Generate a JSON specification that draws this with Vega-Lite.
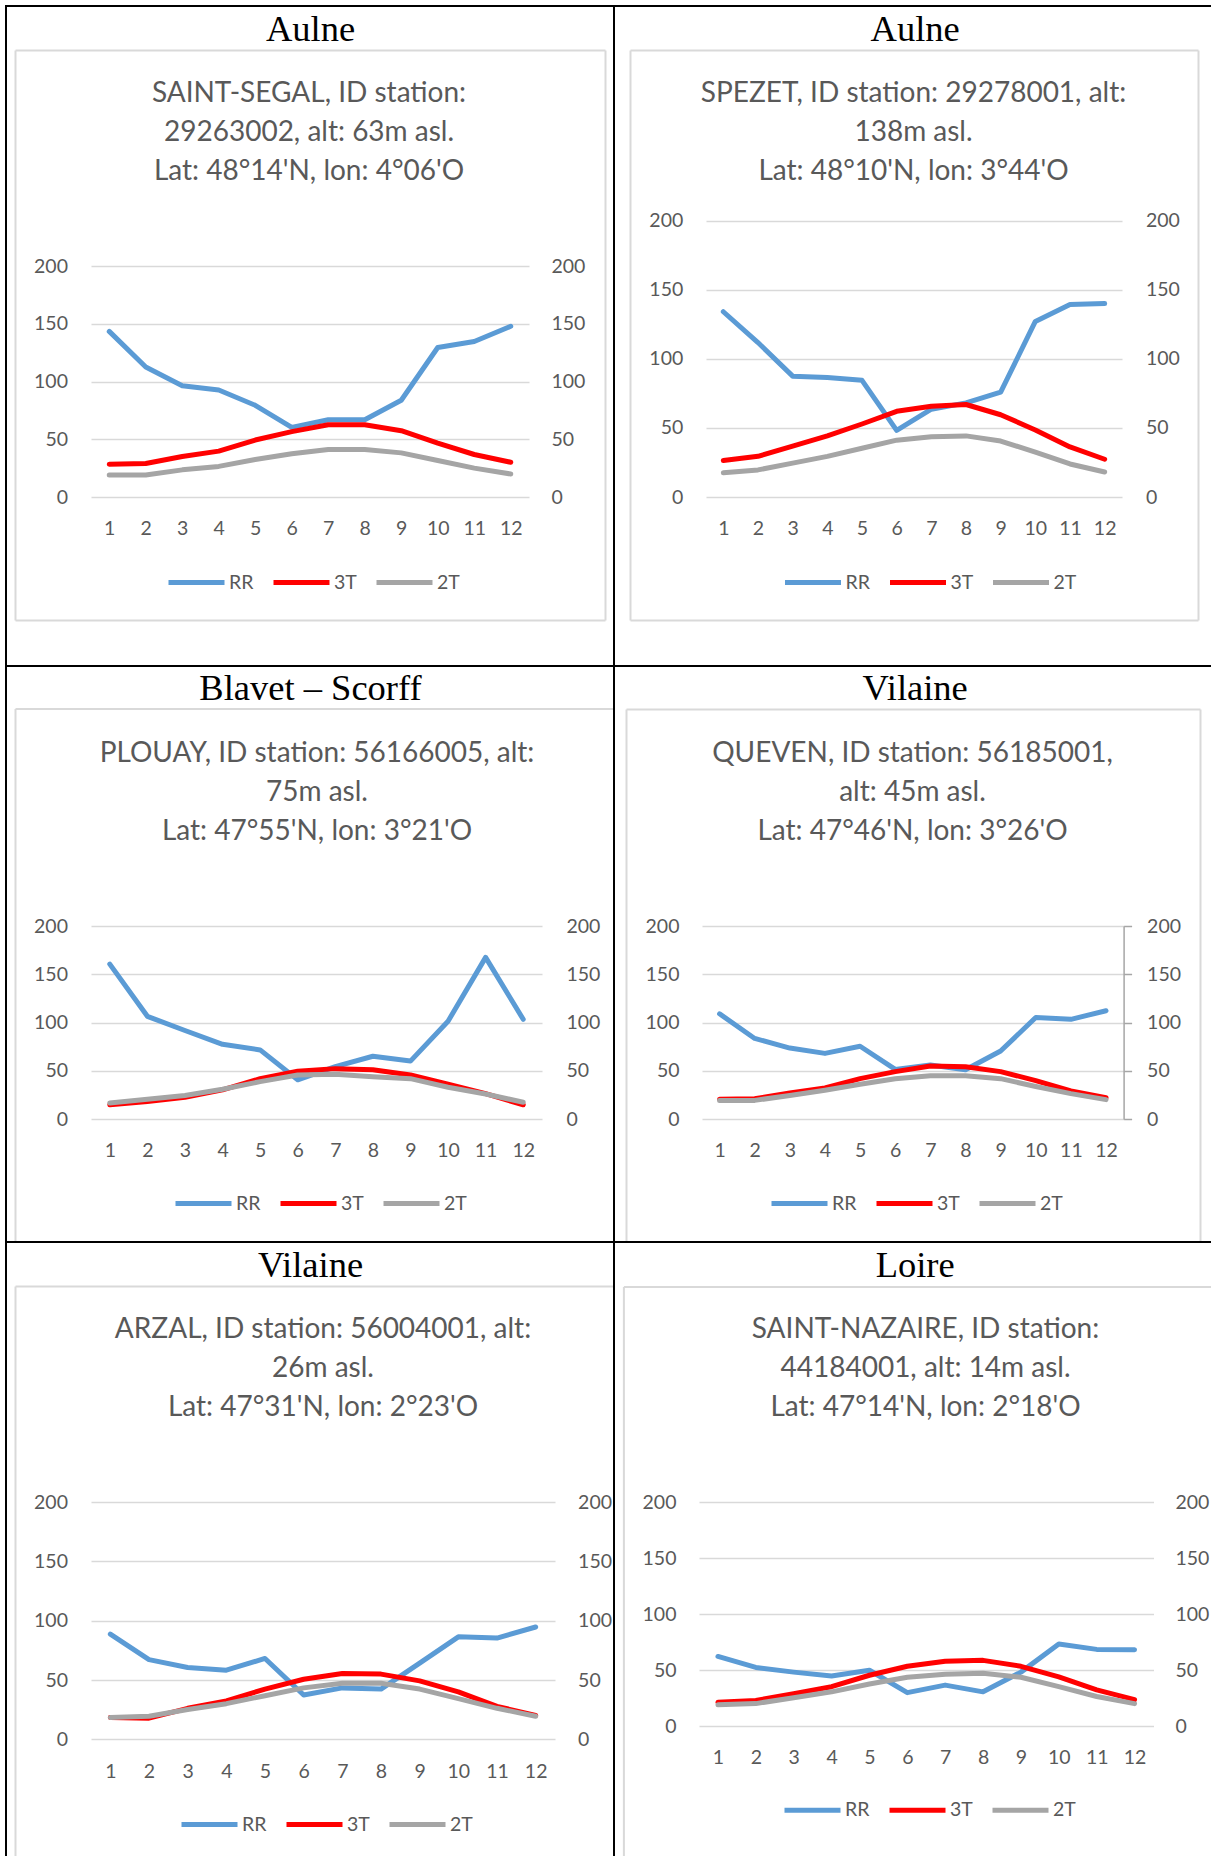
{
"$schema": "https://vega.github.io/schema/vega-lite/v6.json",
"usermeta": {"embedOptions": {"actions": false}},
"background": "white",
"padding": {"left": 5, "top": 5, "right": -2, "bottom": -2},
"config": {
  "view": {"stroke": "#000000", "strokeWidth": 2},
  "axis": {"labelFont": "Lato", "labelFontSize": 19.5, "labelColor": "#595959", "labelPadding": 0, "ticks": false, "domain": false, "grid": false, "titleFont": "Liberation Serif", "titleFontSize": 36.5, "titleFontWeight": "normal", "titleColor": "#000000", "titleAlign": "center", "titleBaseline": "alphabetic", "titleAngle": 0},
  "legend": {"orient": "none", "direction": "horizontal", "labelFont": "Lato", "labelFontSize": 19.5, "labelColor": "#595959", "symbolType": "stroke", "symbolSize": 3136, "symbolStrokeWidth": 5, "labelOffset": 2, "columnPadding": 17, "padding": 0},
  "title": {"anchor": "middle", "frame": "group", "offset": -180, "font": "Lato", "fontSize": 28, "fontWeight": "normal", "color": "#595959", "lineHeight": 39},
  "line": {"strokeWidth": 5, "strokeCap": "round", "strokeJoin": "round"}
},
"data": {"values": [
{"p":1,"m":1,"s":"RR","v":143.4},{"p":1,"m":2,"s":"RR","v":112.5},{"p":1,"m":3,"s":"RR","v":96.3},{"p":1,"m":4,"s":"RR","v":92.6},{"p":1,"m":5,"s":"RR","v":79.4},{"p":1,"m":6,"s":"RR","v":60.3},{"p":1,"m":7,"s":"RR","v":66.9},{"p":1,"m":8,"s":"RR","v":66.9},{"p":1,"m":9,"s":"RR","v":83.8},{"p":1,"m":10,"s":"RR","v":129.4},{"p":1,"m":11,"s":"RR","v":134.6},{"p":1,"m":12,"s":"RR","v":147.8},
{"p":1,"m":1,"s":"3T","v":28.3},{"p":1,"m":2,"s":"3T","v":29.0},{"p":1,"m":3,"s":"3T","v":35.0},{"p":1,"m":4,"s":"3T","v":39.7},{"p":1,"m":5,"s":"3T","v":49.3},{"p":1,"m":6,"s":"3T","v":56.6},{"p":1,"m":7,"s":"3T","v":62.5},{"p":1,"m":8,"s":"3T","v":62.5},{"p":1,"m":9,"s":"3T","v":57.4},{"p":1,"m":10,"s":"3T","v":46.7},{"p":1,"m":11,"s":"3T","v":36.8},{"p":1,"m":12,"s":"3T","v":30.1},
{"p":1,"m":1,"s":"2T","v":19.1},{"p":1,"m":2,"s":"2T","v":19.1},{"p":1,"m":3,"s":"2T","v":23.5},{"p":1,"m":4,"s":"2T","v":26.5},{"p":1,"m":5,"s":"2T","v":32.4},{"p":1,"m":6,"s":"2T","v":37.5},{"p":1,"m":7,"s":"2T","v":41.2},{"p":1,"m":8,"s":"2T","v":41.2},{"p":1,"m":9,"s":"2T","v":38.2},{"p":1,"m":10,"s":"2T","v":31.6},{"p":1,"m":11,"s":"2T","v":25.0},{"p":1,"m":12,"s":"2T","v":19.9},
{"p":2,"m":1,"s":"RR","v":134.0},{"p":2,"m":2,"s":"RR","v":111.7},{"p":2,"m":3,"s":"RR","v":87.4},{"p":2,"m":4,"s":"RR","v":86.5},{"p":2,"m":5,"s":"RR","v":84.4},{"p":2,"m":6,"s":"RR","v":48.2},{"p":2,"m":7,"s":"RR","v":63.5},{"p":2,"m":8,"s":"RR","v":68.1},{"p":2,"m":9,"s":"RR","v":75.8},{"p":2,"m":10,"s":"RR","v":127.0},{"p":2,"m":11,"s":"RR","v":139.3},{"p":2,"m":12,"s":"RR","v":139.9},
{"p":2,"m":1,"s":"3T","v":26.4},{"p":2,"m":2,"s":"3T","v":29.4},{"p":2,"m":3,"s":"3T","v":36.8},{"p":2,"m":4,"s":"3T","v":44.2},{"p":2,"m":5,"s":"3T","v":52.8},{"p":2,"m":6,"s":"3T","v":62.0},{"p":2,"m":7,"s":"3T","v":65.6},{"p":2,"m":8,"s":"3T","v":66.9},{"p":2,"m":9,"s":"3T","v":59.5},{"p":2,"m":10,"s":"3T","v":48.5},{"p":2,"m":11,"s":"3T","v":36.2},{"p":2,"m":12,"s":"3T","v":27.3},
{"p":2,"m":1,"s":"2T","v":17.5},{"p":2,"m":2,"s":"2T","v":19.6},{"p":2,"m":3,"s":"2T","v":24.5},{"p":2,"m":4,"s":"2T","v":29.4},{"p":2,"m":5,"s":"2T","v":35.3},{"p":2,"m":6,"s":"2T","v":41.1},{"p":2,"m":7,"s":"2T","v":43.6},{"p":2,"m":8,"s":"2T","v":44.2},{"p":2,"m":9,"s":"2T","v":40.5},{"p":2,"m":10,"s":"2T","v":32.5},{"p":2,"m":11,"s":"2T","v":23.9},{"p":2,"m":12,"s":"2T","v":18.1},
{"p":3,"m":1,"s":"RR","v":160.5},{"p":3,"m":2,"s":"RR","v":106.4},{"p":3,"m":3,"s":"RR","v":91.7},{"p":3,"m":4,"s":"RR","v":77.4},{"p":3,"m":5,"s":"RR","v":71.6},{"p":3,"m":6,"s":"RR","v":40.6},{"p":3,"m":7,"s":"RR","v":54.2},{"p":3,"m":8,"s":"RR","v":65.0},{"p":3,"m":9,"s":"RR","v":60.0},{"p":3,"m":10,"s":"RR","v":101.3},{"p":3,"m":11,"s":"RR","v":167.5},{"p":3,"m":12,"s":"RR","v":103.3},
{"p":3,"m":1,"s":"3T","v":14.7},{"p":3,"m":2,"s":"3T","v":18.2},{"p":3,"m":3,"s":"3T","v":22.4},{"p":3,"m":4,"s":"3T","v":30.2},{"p":3,"m":5,"s":"3T","v":41.8},{"p":3,"m":6,"s":"3T","v":49.5},{"p":3,"m":7,"s":"3T","v":52.2},{"p":3,"m":8,"s":"3T","v":51.1},{"p":3,"m":9,"s":"3T","v":45.6},{"p":3,"m":10,"s":"3T","v":36.0},{"p":3,"m":11,"s":"3T","v":26.3},{"p":3,"m":12,"s":"3T","v":14.7},
{"p":3,"m":1,"s":"2T","v":16.6},{"p":3,"m":2,"s":"2T","v":20.5},{"p":3,"m":3,"s":"2T","v":24.4},{"p":3,"m":4,"s":"2T","v":30.9},{"p":3,"m":5,"s":"2T","v":38.7},{"p":3,"m":6,"s":"2T","v":45.6},{"p":3,"m":7,"s":"2T","v":46.4},{"p":3,"m":8,"s":"2T","v":43.7},{"p":3,"m":9,"s":"2T","v":41.8},{"p":3,"m":10,"s":"2T","v":32.9},{"p":3,"m":11,"s":"2T","v":25.9},{"p":3,"m":12,"s":"2T","v":17.4},
{"p":4,"m":1,"s":"RR","v":109.0},{"p":4,"m":2,"s":"RR","v":83.5},{"p":4,"m":3,"s":"RR","v":73.5},{"p":4,"m":4,"s":"RR","v":68.0},{"p":4,"m":5,"s":"RR","v":75.4},{"p":4,"m":6,"s":"RR","v":51.4},{"p":4,"m":7,"s":"RR","v":56.0},{"p":4,"m":8,"s":"RR","v":51.0},{"p":4,"m":9,"s":"RR","v":70.4},{"p":4,"m":10,"s":"RR","v":105.2},{"p":4,"m":11,"s":"RR","v":103.3},{"p":4,"m":12,"s":"RR","v":112.2},
{"p":4,"m":1,"s":"3T","v":20.5},{"p":4,"m":2,"s":"3T","v":20.9},{"p":4,"m":3,"s":"3T","v":27.0},{"p":4,"m":4,"s":"3T","v":32.1},{"p":4,"m":5,"s":"3T","v":41.8},{"p":4,"m":6,"s":"3T","v":49.1},{"p":4,"m":7,"s":"3T","v":54.9},{"p":4,"m":8,"s":"3T","v":54.2},{"p":4,"m":9,"s":"3T","v":49.1},{"p":4,"m":10,"s":"3T","v":39.8},{"p":4,"m":11,"s":"3T","v":29.0},{"p":4,"m":12,"s":"3T","v":22.0},
{"p":4,"m":1,"s":"2T","v":19.3},{"p":4,"m":2,"s":"2T","v":19.3},{"p":4,"m":3,"s":"2T","v":24.4},{"p":4,"m":4,"s":"2T","v":29.8},{"p":4,"m":5,"s":"2T","v":36.0},{"p":4,"m":6,"s":"2T","v":41.8},{"p":4,"m":7,"s":"2T","v":44.9},{"p":4,"m":8,"s":"2T","v":44.9},{"p":4,"m":9,"s":"2T","v":41.8},{"p":4,"m":10,"s":"2T","v":33.7},{"p":4,"m":11,"s":"2T","v":26.3},{"p":4,"m":12,"s":"2T","v":20.1},
{"p":5,"m":1,"s":"RR","v":88.7},{"p":5,"m":2,"s":"RR","v":67.2},{"p":5,"m":3,"s":"RR","v":60.6},{"p":5,"m":4,"s":"RR","v":58.3},{"p":5,"m":5,"s":"RR","v":68.2},{"p":5,"m":6,"s":"RR","v":37.4},{"p":5,"m":7,"s":"RR","v":43.4},{"p":5,"m":8,"s":"RR","v":42.4},{"p":5,"m":9,"s":"RR","v":64.2},{"p":5,"m":10,"s":"RR","v":86.4},{"p":5,"m":11,"s":"RR","v":85.4},{"p":5,"m":12,"s":"RR","v":94.7},
{"p":5,"m":1,"s":"3T","v":18.5},{"p":5,"m":2,"s":"3T","v":17.9},{"p":5,"m":3,"s":"3T","v":26.2},{"p":5,"m":4,"s":"3T","v":32.4},{"p":5,"m":5,"s":"3T","v":42.4},{"p":5,"m":6,"s":"3T","v":50.7},{"p":5,"m":7,"s":"3T","v":55.6},{"p":5,"m":8,"s":"3T","v":55.0},{"p":5,"m":9,"s":"3T","v":49.3},{"p":5,"m":10,"s":"3T","v":40.1},{"p":5,"m":11,"s":"3T","v":27.8},{"p":5,"m":12,"s":"3T","v":20.2},
{"p":5,"m":1,"s":"2T","v":18.5},{"p":5,"m":2,"s":"2T","v":19.5},{"p":5,"m":3,"s":"2T","v":25.2},{"p":5,"m":4,"s":"2T","v":30.1},{"p":5,"m":5,"s":"2T","v":36.8},{"p":5,"m":6,"s":"2T","v":43.4},{"p":5,"m":7,"s":"2T","v":47.3},{"p":5,"m":8,"s":"2T","v":47.3},{"p":5,"m":9,"s":"2T","v":42.4},{"p":5,"m":10,"s":"2T","v":34.4},{"p":5,"m":11,"s":"2T","v":26.2},{"p":5,"m":12,"s":"2T","v":19.5},
{"p":6,"m":1,"s":"RR","v":62.1},{"p":6,"m":2,"s":"RR","v":52.3},{"p":6,"m":3,"s":"RR","v":48.1},{"p":6,"m":4,"s":"RR","v":44.6},{"p":6,"m":5,"s":"RR","v":49.8},{"p":6,"m":6,"s":"RR","v":29.8},{"p":6,"m":7,"s":"RR","v":36.5},{"p":6,"m":8,"s":"RR","v":30.5},{"p":6,"m":9,"s":"RR","v":48.1},{"p":6,"m":10,"s":"RR","v":73.3},{"p":6,"m":11,"s":"RR","v":68.4},{"p":6,"m":12,"s":"RR","v":68.1},
{"p":6,"m":1,"s":"3T","v":21.1},{"p":6,"m":2,"s":"3T","v":22.8},{"p":6,"m":3,"s":"3T","v":28.8},{"p":6,"m":4,"s":"3T","v":35.1},{"p":6,"m":5,"s":"3T","v":45.3},{"p":6,"m":6,"s":"3T","v":53.3},{"p":6,"m":7,"s":"3T","v":57.9},{"p":6,"m":8,"s":"3T","v":58.6},{"p":6,"m":9,"s":"3T","v":53.3},{"p":6,"m":10,"s":"3T","v":43.9},{"p":6,"m":11,"s":"3T","v":32.3},{"p":6,"m":12,"s":"3T","v":23.5},
{"p":6,"m":1,"s":"2T","v":18.9},{"p":6,"m":2,"s":"2T","v":20.0},{"p":6,"m":3,"s":"2T","v":25.3},{"p":6,"m":4,"s":"2T","v":30.5},{"p":6,"m":5,"s":"2T","v":37.5},{"p":6,"m":6,"s":"2T","v":43.5},{"p":6,"m":7,"s":"2T","v":46.3},{"p":6,"m":8,"s":"2T","v":47.0},{"p":6,"m":9,"s":"2T","v":43.5},{"p":6,"m":10,"s":"2T","v":35.1},{"p":6,"m":11,"s":"2T","v":26.3},{"p":6,"m":12,"s":"2T","v":20.0}
]},
"columns": 2,
"spacing": 0,
"bounds": "flush",
"resolve": {"scale": {"color": "independent"}, "legend": {"color": "independent"}},
"concat": [
{
 "width": 608, "height": 660,
 "title": {"text": ["SAINT-SEGAL, ID station:", "29263002, alt: 63m asl.", "Lat: 48°14'N, lon: 4°06'O"], "dx": -1},
 "transform": [{"filter": "datum.p == 1"}],
 "resolve": {"scale": {"x": "independent", "y": "independent"}, "axis": {"x": "independent", "y": "independent"}},
 "layer": [
  {"mark": "line", "encoding": {
    "x": {"field": "m", "type": "ordinal", "scale": {"type": "point", "range": [85, 523], "padding": 0.5}, "axis": {"orient": "bottom", "offset": -146.4, "labelAngle": 0, "title": null}},
    "y": {"field": "v", "type": "quantitative", "scale": {"domain": [0, 200], "range": [491, 260], "nice": false}, "axis": {"orient": "left", "offset": -61.5, "values": [0, 50, 100, 150, 200], "grid": true, "gridColor": "#d9d9d9", "gridWidth": 1.5, "title": null}},
    "color": {"field": "s", "type": "nominal", "sort": ["RR", "3T", "2T"], "scale": {"domain": ["RR", "3T", "2T"], "range": ["#5b9bd5", "#ff0000", "#a5a5a5"]}, "legend": {"title": null, "legendX": 160, "legendY": 546}}}},
  {"mark": {"type": "line", "opacity": 0}, "encoding": {
    "x": {"field": "m", "type": "ordinal", "scale": {"type": "point", "range": [85, 523], "padding": 0.5}, "axis": null},
    "y": {"field": "v", "type": "quantitative", "scale": {"domain": [0, 200], "range": [491, 260], "nice": false}, "axis": {"orient": "right", "offset": -63, "values": [0, 50, 100, 150, 200], "title": null}}}},
  {"mark": {"type": "line", "opacity": 0}, "encoding": {
    "x": {"field": "m", "type": "quantitative", "scale": {"domain": [1, 12], "range": [9, 599], "nice": false, "zero": false}, "axis": {"orient": "top", "offset": -44, "domain": true, "domainColor": "#d9d9d9", "domainWidth": 2, "labels": false, "title": "Aulne", "titleX": 304, "titleY": -9.6}},
    "y": {"field": "v", "type": "quantitative", "scale": {"domain": [0, 200], "range": [614, 44], "nice": false}, "axis": {"orient": "left", "offset": -9, "domain": true, "domainColor": "#d9d9d9", "domainWidth": 2, "labels": false, "title": null}}}},
  {"mark": {"type": "line", "opacity": 0}, "encoding": {
    "x": {"field": "m", "type": "quantitative", "scale": {"domain": [1, 12], "range": [9, 599], "nice": false, "zero": false}, "axis": {"orient": "bottom", "offset": -46, "domain": true, "domainColor": "#d9d9d9", "domainWidth": 2, "labels": false, "title": null}},
    "y": {"field": "v", "type": "quantitative", "scale": {"domain": [0, 200], "range": [614, 44], "nice": false}, "axis": {"orient": "right", "offset": -9, "domain": true, "domainColor": "#d9d9d9", "domainWidth": 2, "labels": false, "title": null}}}}
 ]
},
{
 "width": 598, "height": 660,
 "title": {"text": ["SPEZET, ID station: 29278001, alt:", "138m asl.", "Lat: 48°10'N, lon: 3°44'O"], "dx": 0.5},
 "transform": [{"filter": "datum.p == 2"}],
 "resolve": {"scale": {"x": "independent", "y": "independent"}, "axis": {"x": "independent", "y": "independent"}},
 "layer": [
  {"mark": "line", "encoding": {
    "x": {"field": "m", "type": "ordinal", "scale": {"type": "point", "range": [92, 508], "padding": 0.5}, "axis": {"orient": "bottom", "offset": -146.4, "labelAngle": 0, "title": null}},
    "y": {"field": "v", "type": "quantitative", "scale": {"domain": [0, 200], "range": [491, 214.5], "nice": false}, "axis": {"orient": "left", "offset": -68.8, "values": [0, 50, 100, 150, 200], "grid": true, "gridColor": "#d9d9d9", "gridWidth": 1.5, "title": null}},
    "color": {"field": "s", "type": "nominal", "sort": ["RR", "3T", "2T"], "scale": {"domain": ["RR", "3T", "2T"], "range": ["#5b9bd5", "#ff0000", "#a5a5a5"]}, "legend": {"title": null, "legendX": 168.5, "legendY": 546}}}},
  {"mark": {"type": "line", "opacity": 0}, "encoding": {
    "x": {"field": "m", "type": "ordinal", "scale": {"type": "point", "range": [92, 508], "padding": 0.5}, "axis": null},
    "y": {"field": "v", "type": "quantitative", "scale": {"domain": [0, 200], "range": [491, 214.5], "nice": false}, "axis": {"orient": "right", "offset": -66.6, "values": [0, 50, 100, 150, 200], "title": null}}}},
  {"mark": {"type": "line", "opacity": 0}, "encoding": {
    "x": {"field": "m", "type": "quantitative", "scale": {"domain": [1, 12], "range": [16, 584], "nice": false, "zero": false}, "axis": {"orient": "top", "offset": -44, "domain": true, "domainColor": "#d9d9d9", "domainWidth": 2, "labels": false, "title": "Aulne", "titleX": 300.7, "titleY": -9.6}},
    "y": {"field": "v", "type": "quantitative", "scale": {"domain": [0, 200], "range": [614, 44], "nice": false}, "axis": {"orient": "left", "offset": -16, "domain": true, "domainColor": "#d9d9d9", "domainWidth": 2, "labels": false, "title": null}}}},
  {"mark": {"type": "line", "opacity": 0}, "encoding": {
    "x": {"field": "m", "type": "quantitative", "scale": {"domain": [1, 12], "range": [16, 584], "nice": false, "zero": false}, "axis": {"orient": "bottom", "offset": -46, "domain": true, "domainColor": "#d9d9d9", "domainWidth": 2, "labels": false, "title": null}},
    "y": {"field": "v", "type": "quantitative", "scale": {"domain": [0, 200], "range": [614, 44], "nice": false}, "axis": {"orient": "right", "offset": -14, "domain": true, "domainColor": "#d9d9d9", "domainWidth": 2, "labels": false, "title": null}}}}
 ]
},
{
 "width": 608, "height": 576,
 "title": {"text": ["PLOUAY, ID station: 56166005, alt:", "75m asl.", "Lat: 47°55'N, lon: 3°21'O"], "dx": 7},
 "transform": [{"filter": "datum.p == 3"}],
 "resolve": {"scale": {"x": "independent", "y": "independent"}, "axis": {"x": "independent", "y": "independent"}},
 "layer": [
  {"mark": "line", "encoding": {
    "x": {"field": "m", "type": "ordinal", "scale": {"type": "point", "range": [85, 536], "padding": 0.5}, "axis": {"orient": "bottom", "offset": -100.4, "labelAngle": 0, "title": null}},
    "y": {"field": "v", "type": "quantitative", "scale": {"domain": [0, 200], "range": [453, 260], "nice": false}, "axis": {"orient": "left", "offset": -61.5, "values": [0, 50, 100, 150, 200], "grid": true, "gridColor": "#d9d9d9", "gridWidth": 1.5, "title": null}},
    "color": {"field": "s", "type": "nominal", "sort": ["RR", "3T", "2T"], "scale": {"domain": ["RR", "3T", "2T"], "range": ["#5b9bd5", "#ff0000", "#a5a5a5"]}, "legend": {"title": null, "legendX": 167, "legendY": 507}}}},
  {"mark": {"type": "line", "opacity": 0}, "encoding": {
    "x": {"field": "m", "type": "ordinal", "scale": {"type": "point", "range": [85, 536], "padding": 0.5}, "axis": null},
    "y": {"field": "v", "type": "quantitative", "scale": {"domain": [0, 200], "range": [453, 260], "nice": false}, "axis": {"orient": "right", "offset": -48, "values": [0, 50, 100, 150, 200], "title": null}}}},
  {"mark": {"type": "line", "opacity": 0}, "encoding": {
    "x": {"field": "m", "type": "quantitative", "scale": {"domain": [1, 12], "range": [9, 608], "nice": false, "zero": false}, "axis": {"orient": "top", "offset": -42.5, "domain": true, "domainColor": "#d9d9d9", "domainWidth": 2, "labels": false, "title": "Blavet – Scorff", "titleX": 304, "titleY": -8.7}},
    "y": {"field": "v", "type": "quantitative", "scale": {"domain": [0, 200], "range": [576, 42.5], "nice": false}, "axis": {"orient": "left", "offset": -9, "domain": true, "domainColor": "#d9d9d9", "domainWidth": 2, "labels": false, "title": null}}}}
 ]
},
{
 "width": 598, "height": 576,
 "title": {"text": ["QUEVEN, ID station: 56185001,", "alt: 45m asl.", "Lat: 47°46'N, lon: 3°26'O"], "dx": -0.5},
 "transform": [{"filter": "datum.p == 4"}],
 "resolve": {"scale": {"x": "independent", "y": "independent"}, "axis": {"x": "independent", "y": "independent"}},
 "layer": [
  {"mark": "line", "encoding": {
    "x": {"field": "m", "type": "ordinal", "scale": {"type": "point", "range": [88, 509.6], "padding": 0.5}, "axis": {"orient": "bottom", "offset": -100.4, "labelAngle": 0, "title": null}},
    "y": {"field": "v", "type": "quantitative", "scale": {"domain": [0, 200], "range": [453, 260], "nice": false}, "axis": {"orient": "left", "offset": -65, "values": [0, 50, 100, 150, 200], "grid": true, "gridColor": "#d9d9d9", "gridWidth": 1.5, "title": null}},
    "color": {"field": "s", "type": "nominal", "sort": ["RR", "3T", "2T"], "scale": {"domain": ["RR", "3T", "2T"], "range": ["#5b9bd5", "#ff0000", "#a5a5a5"]}, "legend": {"title": null, "legendX": 155, "legendY": 507}}}},
  {"mark": {"type": "line", "opacity": 0}, "encoding": {
    "x": {"field": "m", "type": "ordinal", "scale": {"type": "point", "range": [88, 509.6], "padding": 0.5}, "axis": null},
    "y": {"field": "v", "type": "quantitative", "scale": {"domain": [0, 200], "range": [453, 260], "nice": false}, "axis": {"orient": "right", "offset": -88.4, "values": [0, 50, 100, 150, 200], "domain": true, "domainColor": "#a6a6a6", "domainWidth": 1.5, "ticks": true, "tickSize": 8, "tickColor": "#a6a6a6", "tickWidth": 1.5, "labelPadding": 15, "title": null}}}},
  {"mark": {"type": "line", "opacity": 0}, "encoding": {
    "x": {"field": "m", "type": "quantitative", "scale": {"domain": [1, 12], "range": [12, 586], "nice": false, "zero": false}, "axis": {"orient": "top", "offset": -43, "domain": true, "domainColor": "#d9d9d9", "domainWidth": 2, "labels": false, "title": "Vilaine", "titleX": 300.7, "titleY": -9.2}},
    "y": {"field": "v", "type": "quantitative", "scale": {"domain": [0, 200], "range": [576, 43], "nice": false}, "axis": {"orient": "left", "offset": -12, "domain": true, "domainColor": "#d9d9d9", "domainWidth": 2, "labels": false, "title": null}}}},
  {"mark": {"type": "line", "opacity": 0}, "encoding": {
    "x": {"field": "m", "type": "quantitative", "scale": {"domain": [1, 12], "range": [12, 586], "nice": false, "zero": false}, "axis": null},
    "y": {"field": "v", "type": "quantitative", "scale": {"domain": [0, 200], "range": [576, 43], "nice": false}, "axis": {"orient": "right", "offset": -12, "domain": true, "domainColor": "#d9d9d9", "domainWidth": 2, "labels": false, "title": null}}}}
 ]
},
{
 "width": 608, "height": 615,
 "title": {"text": ["ARZAL, ID station: 56004001, alt:", "26m asl.", "Lat: 47°31'N, lon: 2°23'O"], "dx": 13},
 "transform": [{"filter": "datum.p == 5"}],
 "resolve": {"scale": {"x": "independent", "y": "independent"}, "axis": {"x": "independent", "y": "independent"}},
 "layer": [
  {"mark": "line", "encoding": {
    "x": {"field": "m", "type": "ordinal", "scale": {"type": "point", "range": [85, 549], "padding": 0.5}, "axis": {"orient": "bottom", "offset": -94.4, "labelAngle": 0, "title": null}},
    "y": {"field": "v", "type": "quantitative", "scale": {"domain": [0, 200], "range": [497.4, 260], "nice": false}, "axis": {"orient": "left", "offset": -61.5, "values": [0, 50, 100, 150, 200], "grid": true, "gridColor": "#d9d9d9", "gridWidth": 1.5, "title": null}},
    "color": {"field": "s", "type": "nominal", "sort": ["RR", "3T", "2T"], "scale": {"domain": ["RR", "3T", "2T"], "range": ["#5b9bd5", "#ff0000", "#a5a5a5"]}, "legend": {"title": null, "legendX": 173, "legendY": 552}}}},
  {"mark": {"type": "line", "opacity": 0}, "encoding": {
    "x": {"field": "m", "type": "ordinal", "scale": {"type": "point", "range": [85, 549], "padding": 0.5}, "axis": null},
    "y": {"field": "v", "type": "quantitative", "scale": {"domain": [0, 200], "range": [497.4, 260], "nice": false}, "axis": {"orient": "right", "offset": -36.4, "values": [0, 50, 100, 150, 200], "title": null}}}},
  {"mark": {"type": "line", "opacity": 0}, "encoding": {
    "x": {"field": "m", "type": "quantitative", "scale": {"domain": [1, 12], "range": [9, 608], "nice": false, "zero": false}, "axis": {"orient": "top", "offset": -44, "domain": true, "domainColor": "#d9d9d9", "domainWidth": 2, "labels": false, "title": "Vilaine", "titleX": 304, "titleY": -9.9}},
    "y": {"field": "v", "type": "quantitative", "scale": {"domain": [0, 200], "range": [615, 44], "nice": false}, "axis": {"orient": "left", "offset": -9, "domain": true, "domainColor": "#d9d9d9", "domainWidth": 2, "labels": false, "title": null}}}}
 ]
},
{
 "width": 598, "height": 615,
 "title": {"text": ["SAINT-NAZAIRE, ID station:", "44184001, alt: 14m asl.", "Lat: 47°14'N, lon: 2°18'O"], "dx": 12.5},
 "transform": [{"filter": "datum.p == 6"}],
 "resolve": {"scale": {"x": "independent", "y": "independent"}, "axis": {"x": "independent", "y": "independent"}},
 "layer": [
  {"mark": "line", "encoding": {
    "x": {"field": "m", "type": "ordinal", "scale": {"type": "point", "range": [85, 539.5], "padding": 0.5}, "axis": {"orient": "bottom", "offset": -108.7, "labelAngle": 0, "title": null}},
    "y": {"field": "v", "type": "quantitative", "scale": {"domain": [0, 200], "range": [484, 260], "nice": false}, "axis": {"orient": "left", "offset": -62, "values": [0, 50, 100, 150, 200], "grid": true, "gridColor": "#d9d9d9", "gridWidth": 1.5, "title": null}},
    "color": {"field": "s", "type": "nominal", "sort": ["RR", "3T", "2T"], "scale": {"domain": ["RR", "3T", "2T"], "range": ["#5b9bd5", "#ff0000", "#a5a5a5"]}, "legend": {"title": null, "legendX": 168, "legendY": 537.7}}}},
  {"mark": {"type": "line", "opacity": 0}, "encoding": {
    "x": {"field": "m", "type": "ordinal", "scale": {"type": "point", "range": [85, 539.5], "padding": 0.5}, "axis": null},
    "y": {"field": "v", "type": "quantitative", "scale": {"domain": [0, 200], "range": [484, 260], "nice": false}, "axis": {"orient": "right", "offset": -37, "values": [0, 50, 100, 150, 200], "title": null}}}},
  {"mark": {"type": "line", "opacity": 0}, "encoding": {
    "x": {"field": "m", "type": "quantitative", "scale": {"domain": [1, 12], "range": [9.4, 598], "nice": false, "zero": false}, "axis": {"orient": "top", "offset": -44.4, "domain": true, "domainColor": "#d9d9d9", "domainWidth": 2, "labels": false, "title": "Loire", "titleX": 300.7, "titleY": -10.3}},
    "y": {"field": "v", "type": "quantitative", "scale": {"domain": [0, 200], "range": [615, 44.4], "nice": false}, "axis": {"orient": "left", "offset": -9.4, "domain": true, "domainColor": "#d9d9d9", "domainWidth": 2, "labels": false, "title": null}}}}
 ]
}
]
}
